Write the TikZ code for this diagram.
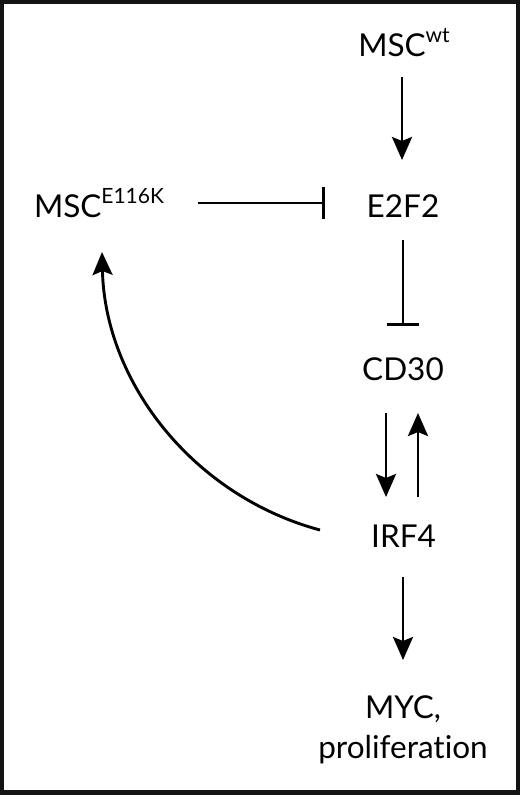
\documentclass[tikz,border=0pt]{standalone}
\usepackage{fontspec}
\setmainfont[Ligatures={NoCommon,NoContextual}]{Lato}
\usetikzlibrary{arrows.meta,calc}
\definecolor{framec}{HTML}{141414}
\begin{document}
\begin{tikzpicture}[x=1pt,y=-1pt,
  lbl/.style={anchor=base,inner sep=0pt,font=\fontsize{31.5}{36}\selectfont},
  conn/.style={line width=2.9pt,black},
  act/.style={conn,-{Stealth[length=23pt,width=20pt,inset=4pt]}},
  inh/.style={conn,-{Bar[width=32pt]}}]
\useasboundingbox (0,0) rectangle (520,795);
\fill[framec] (0,0) rectangle (520,795);
\fill[white] (4,4) rectangle (516,790);
\newcommand{\supx}[1]{\raisebox{13.5pt}{\fontsize{21}{21}\selectfont #1}}
\node[lbl] (wt) at (404,56) {MSC\supx{wt}};
\node[lbl] (mut) at (99,217) {MSC\supx{E116K}};
\node[lbl] (e2f2) at (403,217) {E2F2};
\node[lbl] (cd30) at (403,380) {CD30};
\node[lbl] (irf) at (403.5,547) {IRF4};
\node[lbl] (myc) at (403,718) {MYC,};
\node[lbl] (prol) at (403,758) {proliferat\kern0pt ion};
\draw[act] ($(wt.base)+(-2,21)$) -- ($(e2f2.base)+(-1,-57)$);
\draw[inh] ($(mut.base)+(99,-14)$) -- ($(e2f2.base)+(-78,-14)$);
\draw[inh] ($(e2f2.base)+(0,23)$) -- ($(cd30.base)+(0,-54)$);
\draw[act] ($(cd30.base)+(-17,33)$) -- ($(irf.base)+(-17.5,-50)$);
\draw[act] ($(irf.base)+(14.5,-50)$) -- ($(cd30.base)+(15,33)$);
\draw[act] ($(irf.base)+(-0.5,30)$) -- ($(myc.base)+(0,-58)$);
\draw[act] ($(irf.base)+(-83.5,-17)$) .. controls (193.6,496) and (105,382.9) .. ($(mut.base)+(3,35)$);
\end{tikzpicture}
\end{document}
